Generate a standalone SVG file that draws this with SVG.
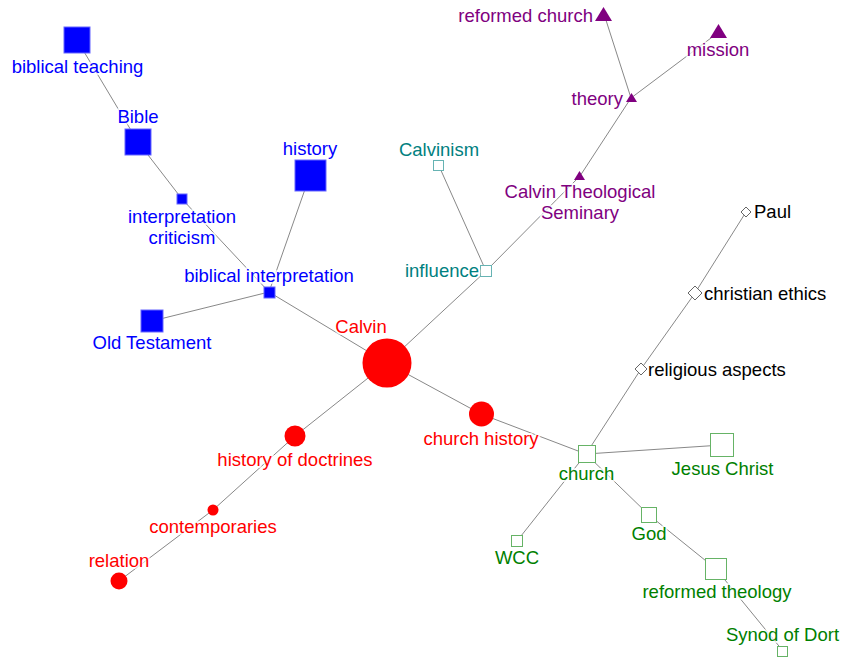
<svg xmlns="http://www.w3.org/2000/svg" width="842" height="658" viewBox="0 0 842 658">
<style>
text{font-family:"Liberation Sans",Arial,sans-serif;font-size:18.5px;paint-order:stroke;stroke:#fff;stroke-width:4px;stroke-opacity:0.75;stroke-linejoin:round}
.m{text-anchor:middle}
.e{text-anchor:end}
.blue{fill:#0000ff}
.red{fill:#ff0000}
.pur{fill:#800080}
.teal{fill:#008080}
.grn{fill:#008000}
.blk{fill:#000}
.sqb{fill:#0000ff;stroke:#6666ff;stroke-width:1}
.cr{fill:#ff0000}
.tri{fill:#800080}
.sqt{fill:#fff;stroke:#66b3b3;stroke-width:1}
.sqg{fill:#fff;stroke:#66b366;stroke-width:1}
.dia{fill:#fff;stroke:#666;stroke-width:1}
#edges line{stroke:#888;stroke-width:1}
</style>
<g id="edges">
<line x1="77" y1="40" x2="138" y2="142"/>
<line x1="138" y1="142" x2="182" y2="199"/>
<line x1="182" y1="199" x2="269" y2="292"/>
<line x1="310" y1="175" x2="269" y2="292"/>
<line x1="152" y1="321" x2="269" y2="292"/>
<line x1="269" y1="292" x2="387" y2="363"/>
<line x1="387" y1="363" x2="295" y2="436"/>
<line x1="295" y1="436" x2="213" y2="510"/>
<line x1="213" y1="510" x2="119" y2="581"/>
<line x1="387" y1="363" x2="481" y2="414"/>
<line x1="481" y1="414" x2="586" y2="454"/>
<line x1="387" y1="363" x2="486" y2="271"/>
<line x1="486" y1="271" x2="439" y2="166"/>
<line x1="486" y1="271" x2="580" y2="176"/>
<line x1="580" y1="176" x2="631" y2="98"/>
<line x1="631" y1="98" x2="604" y2="14"/>
<line x1="631" y1="98" x2="719" y2="32"/>
<line x1="586" y1="454" x2="641" y2="369"/>
<line x1="641" y1="369" x2="695" y2="293"/>
<line x1="695" y1="293" x2="746" y2="212"/>
<line x1="586" y1="454" x2="722" y2="445"/>
<line x1="586" y1="454" x2="517" y2="541"/>
<line x1="586" y1="454" x2="649" y2="515"/>
<line x1="649" y1="515" x2="716" y2="569"/>
<line x1="716" y1="569" x2="783" y2="651"/>
</g>
<g id="n-biblical-teaching"><rect class="sqb" x="64" y="27" width="26" height="26"/><text class="m blue" x="77.5" y="73">biblical teaching</text></g>
<g id="n-bible"><rect class="sqb" x="125" y="129" width="26" height="26"/><text class="m blue" x="138" y="123">Bible</text></g>
<g id="n-interpretation-criticism"><rect class="sqb" x="177" y="194" width="10" height="10"/><text class="m blue" x="182" y="223">interpretation</text><text class="m blue" x="182" y="244">criticism</text></g>
<g id="n-history"><rect class="sqb" x="295" y="160" width="31" height="31"/><text class="m blue" x="310" y="155">history</text></g>
<g id="n-biblical-interpretation"><rect class="sqb" x="264" y="287" width="11" height="11"/><text class="m blue" x="269" y="282">biblical interpretation</text></g>
<g id="n-old-testament"><rect class="sqb" x="141" y="310" width="22" height="22"/><text class="m blue" x="152" y="349">Old Testament</text></g>
<g id="n-calvin"><circle class="cr" cx="387" cy="363" r="24.5"/><text class="m red" x="361" y="333">Calvin</text></g>
<g id="n-history-of-doctrines"><circle class="cr" cx="295" cy="436" r="10.5"/><text class="m red" x="295" y="466">history of doctrines</text></g>
<g id="n-contemporaries"><circle class="cr" cx="213" cy="510" r="5.5"/><text class="m red" x="213" y="533">contemporaries</text></g>
<g id="n-relation"><circle class="cr" cx="119" cy="581" r="8.5"/><text class="m red" x="119" y="567">relation</text></g>
<g id="n-church-history"><circle class="cr" cx="481.5" cy="414" r="12.5"/><text class="m red" x="481" y="445">church history</text></g>
<g id="n-influence"><rect class="sqt" x="480.5" y="265.5" width="11" height="11"/><text class="e teal" x="479" y="277">influence</text></g>
<g id="n-calvinism"><rect class="sqt" x="433.5" y="160.5" width="10" height="10"/><text class="m teal" x="439" y="156">Calvinism</text></g>
<g id="n-calvin-theological-seminary"><polygon class="tri" points="579.5,171 585,180 574,180"/><text class="m pur" x="580" y="198">Calvin Theological</text><text class="m pur" x="580" y="219">Seminary</text></g>
<g id="n-theory"><polygon class="tri" points="631.5,93 637,102 626,102"/><text class="e pur" x="623" y="105">theory</text></g>
<g id="n-reformed-church"><polygon class="tri" points="603.5,7 612,21 595,21"/><text class="e pur" x="593" y="22">reformed church</text></g>
<g id="n-mission"><polygon class="tri" points="718.5,24 727,38 710,38"/><text class="m pur" x="718" y="56">mission</text></g>
<g id="n-paul"><polygon class="dia" points="746,207 751,212 746,217 741,212"/><text class="blk" x="754" y="218">Paul</text></g>
<g id="n-christian-ethics"><polygon class="dia" points="695,286 702,293 695,300 688,293"/><text class="blk" x="704" y="300">christian ethics</text></g>
<g id="n-religious-aspects"><polygon class="dia" points="641,363 647,369 641,375 635,369"/><text class="blk" x="648" y="376">religious aspects</text></g>
<g id="n-church"><rect class="sqg" x="578.5" y="445.5" width="17" height="17"/><text class="m grn" x="586.5" y="480">church</text></g>
<g id="n-jesus-christ"><rect class="sqg" x="710.5" y="433.5" width="23" height="23"/><text class="m grn" x="722.5" y="475">Jesus Christ</text></g>
<g id="n-god"><rect class="sqg" x="641.5" y="507.5" width="15" height="15"/><text class="m grn" x="649" y="540">God</text></g>
<g id="n-wcc"><rect class="sqg" x="511.5" y="535.5" width="11" height="11"/><text class="m grn" x="517" y="564">WCC</text></g>
<g id="n-reformed-theology"><rect class="sqg" x="705.5" y="558.5" width="21" height="21"/><text class="m grn" x="717" y="598">reformed theology</text></g>
<g id="n-synod-of-dort"><rect class="sqg" x="777.5" y="646.5" width="10" height="10"/><text class="m grn" x="782.5" y="641">Synod of Dort</text></g>
</svg>
